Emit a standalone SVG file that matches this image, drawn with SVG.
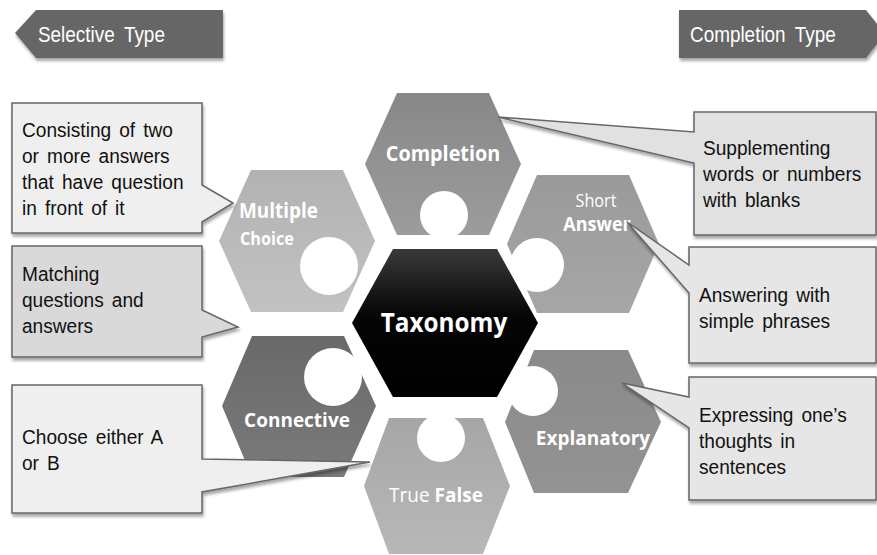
<svg xmlns="http://www.w3.org/2000/svg" width="877" height="555" viewBox="0 0 877 555">
<defs>
  <filter id="sh" x="-10%" y="-10%" width="130%" height="140%">
    <feGaussianBlur in="SourceAlpha" stdDeviation="1.5"/>
    <feOffset dx="1" dy="3" result="b"/>
    <feComponentTransfer><feFuncA type="linear" slope="0.35"/></feComponentTransfer>
    <feMerge><feMergeNode/><feMergeNode in="SourceGraphic"/></feMerge>
  </filter>
  <linearGradient id="gC" x1="0" y1="0" x2="0" y2="1"><stop offset="0" stop-color="#888"/><stop offset="1" stop-color="#9c9c9c"/></linearGradient>
  <linearGradient id="gM" x1="0" y1="0" x2="0" y2="1"><stop offset="0" stop-color="#b2b2b2"/><stop offset="1" stop-color="#c2c2c2"/></linearGradient>
  <linearGradient id="gS" x1="0" y1="0" x2="0" y2="1"><stop offset="0" stop-color="#9a9a9a"/><stop offset="1" stop-color="#a6a6a6"/></linearGradient>
  <linearGradient id="gK" x1="0" y1="0" x2="0" y2="1"><stop offset="0" stop-color="#696969"/><stop offset="1" stop-color="#7a7a7a"/></linearGradient>
  <linearGradient id="gE" x1="0" y1="0" x2="0" y2="1"><stop offset="0" stop-color="#8a8a8a"/><stop offset="1" stop-color="#939393"/></linearGradient>
  <linearGradient id="gT" x1="0" y1="0" x2="0" y2="1"><stop offset="0" stop-color="#a6a6a6"/><stop offset="1" stop-color="#b8b8b8"/></linearGradient>
  <linearGradient id="gX" x1="0" y1="0" x2="0" y2="1"><stop offset="0" stop-color="#3a3a3a"/><stop offset="0.45" stop-color="#050505"/><stop offset="1" stop-color="#000"/></linearGradient>
</defs>
<style>
  .hl { font-family: "Open Sans", "Noto Sans", "DejaVu Sans", sans-serif; fill: #fff; text-anchor: middle; }
  .b { font-weight: bold; }
  .ct { font-family: "Liberation Sans", Arial, sans-serif; font-size: 21px; fill: #111; word-spacing: 3px; }
  .tab { fill: #666; filter: url(#sh); }
  .tt { font-family: "Liberation Sans", Arial, sans-serif; font-size: 22px; fill: #fff; word-spacing: 5px; }
  .co { stroke: #666; stroke-width: 1.5; stroke-linejoin: miter; filter: url(#sh); }
  .hole { fill: #fff; }
</style>
<rect width="877" height="555" fill="#fff"/>

<g id="tab-selective">
  <path class="tab" d="M15,33 L36,10 H223 V58 H36 Z"/>
  <text class="tt" transform="translate(38,42) scale(0.86,1)">Selective Type</text>
</g>
<g id="tab-completion">
  <path class="tab" d="M679,10 H866 L885,34 L866,58 H679 Z"/>
  <text class="tt" transform="translate(690,42) scale(0.86,1)">Completion Type</text>
</g>

<g id="hex-completion">
  <path d="M397,93 H489 L521,164 L489,235 H397 L365,164 Z" fill="url(#gC)"/>
  <circle class="hole" cx="444" cy="215" r="24"/>
  <text class="hl b" font-size="22" transform="translate(443,161) scale(0.9,1)">Completion</text>
</g>
<g id="hex-multiple">
  <path d="M251,170 H343 L375,241 L343,312 H251 L219,241 Z" fill="url(#gM)"/>
  <circle class="hole" cx="329" cy="266" r="29"/>
  <text class="hl b" font-size="21" text-anchor="start" style="text-anchor:start" transform="translate(239,218) scale(0.9,1)">Multiple</text>
  <text class="hl b" font-size="18" style="text-anchor:start" transform="translate(240,245) scale(0.9,1)">Choice</text>
</g>
<g id="hex-short">
  <path d="M537,175 H629 L659,244 L629,313 H537 L507,244 Z" fill="url(#gS)"/>
  <circle class="hole" cx="537" cy="265" r="27"/>
  <text class="hl" font-size="18" transform="translate(596,207) scale(0.9,1)">Short</text>
  <text class="hl b" font-size="20" transform="translate(597,231) scale(0.9,1)">Answer</text>
</g>
<g id="hex-connective">
  <path d="M252,336 H344 L376,406 L344,477 H252 L222,406 Z" fill="url(#gK)"/>
  <circle class="hole" cx="333" cy="377" r="29"/>
  <text class="hl b" font-size="20" transform="translate(297,427) scale(0.95,1)">Connective</text>
</g>
<g id="hex-explanatory">
  <path d="M534,350 H628 L661,422 L628,493 H534 L505,422 Z" fill="url(#gE)"/>
  <circle class="hole" cx="533" cy="391" r="25"/>
  <text class="hl b" font-size="20" transform="translate(593,445) scale(0.95,1)">Explanatory</text>
</g>
<g id="hex-truefalse">
  <path d="M389,418 H483 L510,486 L483,554 H389 L364,486 Z" fill="url(#gT)"/>
  <circle class="hole" cx="441" cy="438" r="24"/>
  <text class="hl" font-size="20" transform="translate(436,502) scale(0.95,1)"><tspan>True </tspan><tspan class="b">False</tspan></text>
</g>
<g id="hex-taxonomy">
  <path d="M393,249 H497 L538,323 L497,397 H393 L352,323 Z" fill="url(#gX)"/>
  <text class="hl b" font-size="27" transform="translate(444,332) scale(0.9,1)">Taxonomy</text>
</g>

<g id="connectors">
  <g id="callout-multiple">
    <path class="co" fill="#efefef" d="M12,103 H202 V185 L233,203 L202,222 V233 H12 Z"/>
    <g transform="translate(22,0) scale(0.91,1)">
      <text class="ct" x="0" y="137">Consisting of two</text>
      <text class="ct" x="0" y="163">or more answers</text>
      <text class="ct" x="0" y="189">that have question</text>
      <text class="ct" x="0" y="215">in front of it</text>
    </g>
  </g>
  <g id="callout-matching">
    <path class="co" fill="#d9d9d9" d="M12,246 H202 V310 L238,327 L202,337 V357 H12 Z"/>
    <g transform="translate(22,0) scale(0.91,1)">
      <text class="ct" x="0" y="281">Matching</text>
      <text class="ct" x="0" y="307">questions and</text>
      <text class="ct" x="0" y="333">answers</text>
    </g>
  </g>
  <g id="callout-choose">
    <path class="co" fill="#efefef" d="M12,385 H202 V459 L370,462 L202,492 V513 H12 Z"/>
    <g transform="translate(22,0) scale(0.91,1)">
      <text class="ct" x="0" y="444">Choose either A</text>
      <text class="ct" x="0" y="470">or B</text>
    </g>
  </g>
  <g id="callout-supplement">
    <path class="co" fill="#e1e1e1" d="M694,112 H876 V235 H694 V163 L498,117 L694,132 Z"/>
    <g transform="translate(703,0) scale(0.91,1)">
      <text class="ct" x="0" y="155">Supplementing</text>
      <text class="ct" x="0" y="181">words or numbers</text>
      <text class="ct" x="0" y="207">with blanks</text>
    </g>
  </g>
  <g id="callout-answering">
    <path class="co" fill="#e6e6e6" d="M689,247 H876 V363 H689 V293 L627,222 L689,265 Z"/>
    <g transform="translate(699,0) scale(0.91,1)">
      <text class="ct" x="0" y="302">Answering with</text>
      <text class="ct" x="0" y="328">simple phrases</text>
    </g>
  </g>
  <g id="callout-expressing">
    <path class="co" fill="#e6e6e6" d="M689,377 H876 V500 H689 V428 L622,383 L689,397 Z"/>
    <g transform="translate(699,0) scale(0.91,1)">
      <text class="ct" x="0" y="422">Expressing one’s</text>
      <text class="ct" x="0" y="448">thoughts in</text>
      <text class="ct" x="0" y="474">sentences</text>
    </g>
  </g>
</g>
</svg>
